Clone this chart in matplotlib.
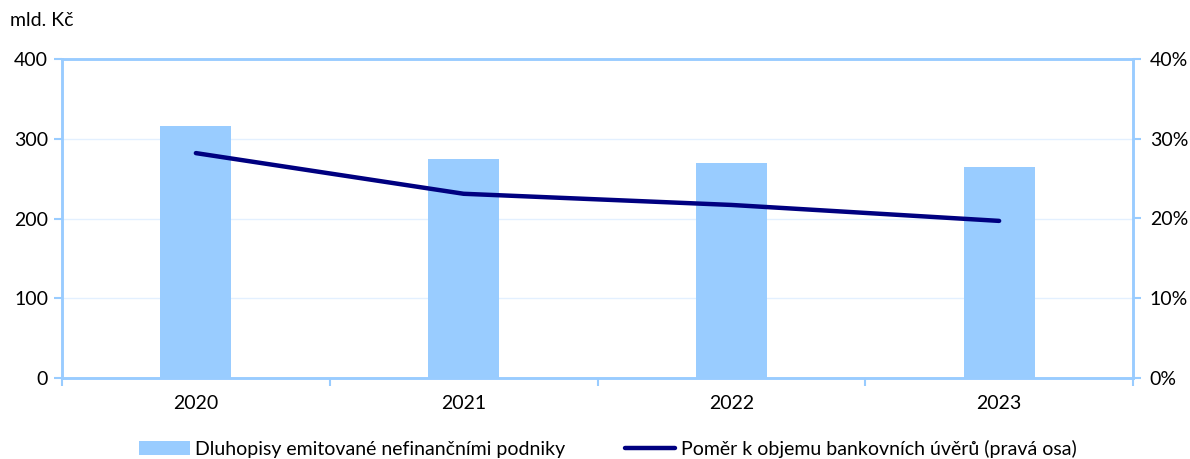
import matplotlib.pyplot as plt
from matplotlib.ticker import FuncFormatter
import numpy as np

plt.rcParams['font.family'] = ['Lato', 'DejaVu Sans']

years = ['2020', '2021', '2022', '2023']
bonds = [316, 274, 269, 265]          # mld. Kč
ratio = [28.2, 23.1, 21.7, 19.7]      # % of bank loans (right axis)

bar_col = '#99ccff'
line_col = '#000080'
axis_col = '#99ccff'

fig = plt.figure(figsize=(11.9, 4.59), dpi=100)
ax = fig.add_axes([62/1190, 1 - 378/459, (1133-62)/1190, (378-59)/459])
x = np.arange(len(years))
ax.bar(x, bonds, width=0.265, color=bar_col, zorder=2,
       label='Dluhopisy emitované nefinančními podniky')
ax.set_xlim(-0.5, len(years) - 0.5)
ax.set_ylim(0, 400)
ax.set_yticks([0, 100, 200, 300, 400])
ax.grid(axis='y', color='#e3f0ff', lw=1, zorder=0)
ax.set_xticks(x)
ax.set_xticklabels(years)
ax.set_xticks(np.arange(-0.5, len(years)), minor=True)
ax.tick_params(axis='x', which='major', length=0, pad=12, labelsize=14)
ax.tick_params(axis='x', which='minor', length=6, color=axis_col, width=1.5, direction='out')
ax.tick_params(axis='y', length=6, color=axis_col, width=1.5, labelsize=14, pad=4)
for s in ax.spines.values():
    s.set_color(axis_col)
    s.set_linewidth(1.8)

ax2 = ax.twinx()
ax2.plot(x, ratio, color=line_col, lw=3.2, solid_capstyle='round',
         label='Poměr k objemu bankovních úvěrů (pravá osa)')
ax2.set_ylim(0, 40)
ax2.set_yticks([0, 10, 20, 30, 40])
ax2.yaxis.set_major_formatter(FuncFormatter(lambda v, p: f'{v:.0f}%'))
ax2.tick_params(axis='y', length=6, color=axis_col, width=1.5, labelsize=14, pad=6)
for s in ax2.spines.values():
    s.set_color(axis_col)
    s.set_linewidth(1.8)

fig.text(10/1190, 1 - 20/459, 'mld. Kč', fontsize=14, va='center', ha='left')

h1, l1 = ax.get_legend_handles_labels()
h2, l2 = ax2.get_legend_handles_labels()
fig.legend(h1 + h2, l1 + l2, loc='center', bbox_to_anchor=(0.511, 1 - 449/459),
           ncol=2, frameon=False, fontsize=14, columnspacing=3.05,
           handlelength=2.6, handletextpad=0.3)

fig.savefig('out.png', dpi=100)
